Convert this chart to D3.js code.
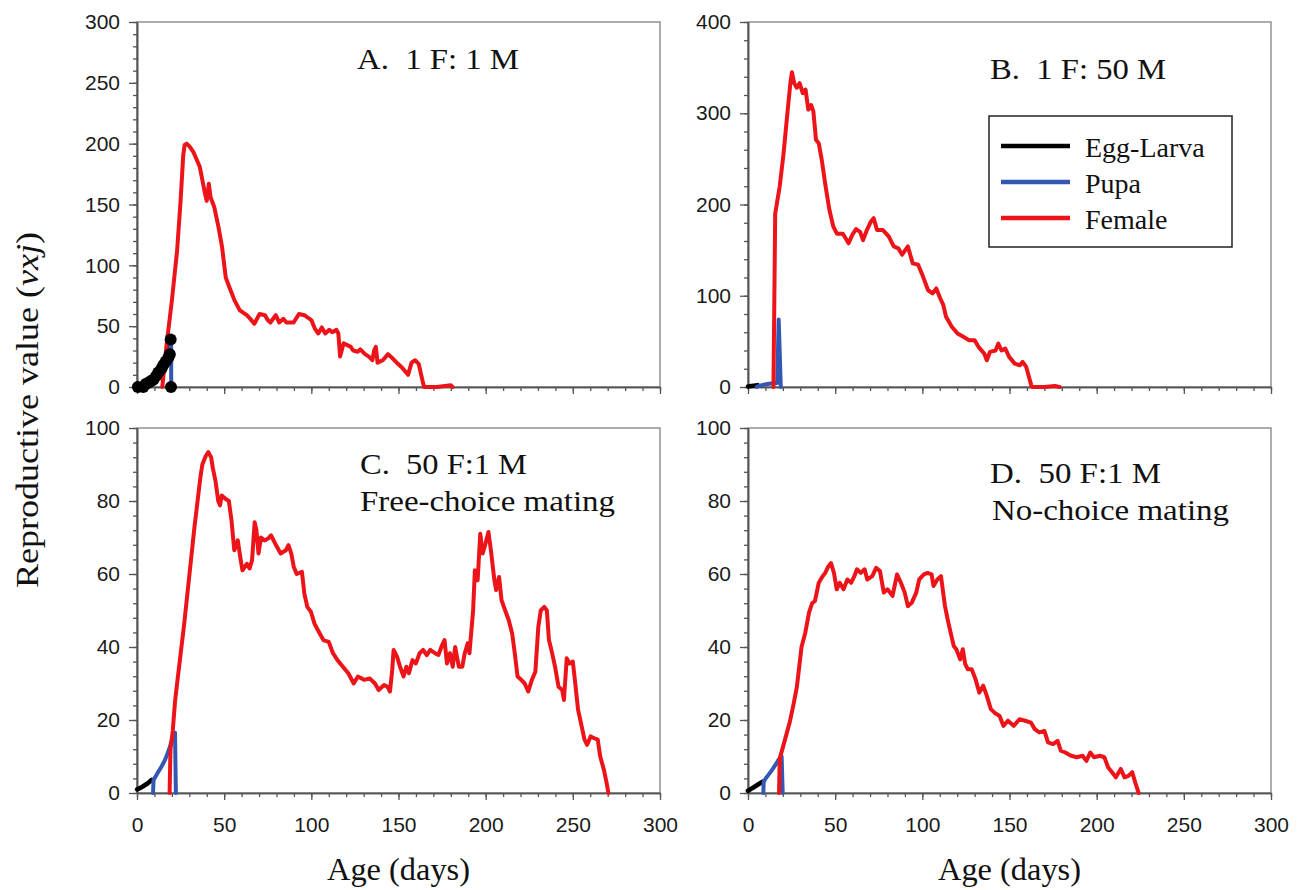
<!DOCTYPE html>
<html>
<head>
<meta charset="utf-8">
<script src="https://cdn.jsdelivr.net/npm/d3@7"></script>
<style>
  body { margin: 0; background: #fff; }
  svg { display: block; }
  .tick text { font-family: "Liberation Sans", Arial, sans-serif; font-size: 21px; fill: #1a1a1a; }
  .serif { font-family: "Liberation Serif", "Times New Roman", serif; fill: #111; white-space: pre; }
</style>
</head>
<body>
<svg id="chart" width="1299" height="890"></svg>
<script>
// ---- Axis ticks ----
const ageTicks = [0, 50, 100, 150, 200, 250, 300];
const valueTicksA = [0, 50, 100, 150, 200, 250, 300];
const valueTicksB = [0, 100, 200, 300, 400];
const valueTicksCD = [0, 20, 40, 60, 80, 100];

// ---- Panel labels ----
const panelTitles = {
  A: ["A.  1 F: 1 M"],
  B: ["B.  1 F: 50 M"],
  C: ["C.  50 F:1 M", "Free-choice mating"],
  D: ["D.  50 F:1 M", "No-choice mating"]
};
const legendLabels = ["Egg-Larva", "Pupa", "Female"];

// ---- A. 1 F : 1 M  (age in days, reproductive value) ----
const eggLarvaA = [[0,0],[2,1],[3.6,0],[5,2.5],[6.5,3.5],[8,5],[9.4,6],[11,9],[12.2,12],[14,15],[15.1,18],[16.5,21],[18,24],[18.8,27],[19.3,39]];
const eggLarvaMarkersA = [[0.5,0],[3.6,0],[5,2.5],[6.5,3.5],[8,5],[9.4,6],[11,9],[12.2,12],[14,15],[15.1,18],[16.5,21],[18,24],[18.8,27],[19.3,39],[19.5,0]];
const pupaA = [[18.8,27],[19.3,36],[19.6,36],[19.6,0]];
const femaleA = [[14.5,0],[17,35],[20,71],[23,112],[25,153],[26.5,190],[27.3,199],[28.5,200],[30,198],[32.4,193],[34.5,186],[36,181],[37.5,170],[39,159],[40,153],[41.2,167],[42.2,156],[44.3,148],[46.8,131],[48.8,115],[50.9,90],[53,82],[56,71],[59,63],[63,59],[65,56],[67.3,52],[70.3,60],[73.4,59],[75,55],[76.5,53],[79.6,59],[81.6,53],[84,56],[85.7,53],[89.8,53],[92.9,60],[96,59],[100,55],[102,48],[104,44],[106,49],[108,44],[110.3,47],[112,45],[114.4,47],[115.5,44],[116.5,25],[118.5,36],[122.6,33],[124,30],[126.7,29],[128,31],[130.8,27],[133,25],[135,22],[136,30],[137,33],[138,20],[141,22],[144,27],[147,23],[149,20],[152,16],[155.5,10],[157.5,20],[159.5,22],[161.6,19],[163.7,5.5],[164.7,0],[172,0],[180,1.4],[181,0]];

// ---- B. 1 F : 50 M ----
const eggLarvaB = [[0,0.5],[2,1],[4,1.5],[5.5,2]];
const pupaB = [[5,0],[6,1],[9,2.5],[12,3.5],[14.5,4],[16.8,4.5],[17.6,74],[18.8,0]];
const femaleB = [[14.6,0],[15.6,190],[18.2,220],[20.4,256],[22.6,300],[24.3,333],[25.2,345],[26.5,333],[28,328],[29.6,333],[31.4,322],[33,326],[34.6,304],[36.2,309],[37.5,302],[39,271],[40.6,267],[42.3,249],[44.5,220],[46.7,194],[48.9,176],[51,168],[54.4,168],[56,163],[57.7,157.5],[59.9,167],[62,173],[64.3,170],[66,161],[68.2,172],[70.4,181],[72.1,185],[74,172],[77.4,172],[80.7,165],[83.6,154],[86.2,152],[88.4,145],[91.7,154],[94.5,135.5],[97.6,134],[100.4,121],[103.3,106],[105.9,102.6],[108,108],[110.3,97],[112,90],[113.6,77],[116.9,66],[120.2,58.6],[123.5,55],[126.8,51.3],[130,51.3],[132.2,44],[135.5,36.6],[137,29.3],[138.8,38.5],[142,40],[143.6,47.6],[145.4,40],[147.6,42],[149.8,33],[153,25.6],[156,23.8],[157.5,27.5],[159.6,22],[162.5,1.8],[163,0],[170,0],[176,1],[178.7,0]];

// ---- C. 50 F : 1 M, free-choice mating ----
const eggLarvaC = [[0,1],[2,1.4],[4,2],[6,2.6],[7.5,3.2],[8.5,3.6]];
const pupaC = [[9.2,0],[9.5,3.6],[11,4.8],[12.2,5.8],[14,7.2],[16,9],[17.5,10.8],[18.9,12.7],[20,14.5],[21.2,16.4],[21.8,16.5],[22.3,0]];
const femaleC = [[18.7,0],[19.2,12],[20.5,17],[21.8,25],[23,30],[25,38],[27,46],[29,55],[31,64],[33,73],[35,81],[36.5,87],[37.5,90],[39.5,92.4],[40.9,93.4],[42.5,92],[43.5,89],[45,85.6],[46.6,80],[47.6,78.8],[48.6,81.5],[50.7,80.6],[52.7,80],[54.2,74.7],[55.8,66.5],[57.8,69.2],[59.5,63.8],[60.5,61],[63,62.8],[64.6,61.5],[66,63.8],[67.5,74.2],[68.5,72],[69.7,65.6],[71.1,70],[73.2,69.2],[75.2,69.7],[76.9,70.6],[79.3,68.3],[82.4,65.6],[85.4,66.5],[86.9,67.9],[88.5,65.6],[89.9,62],[91.6,60],[94.6,60.6],[96,54.6],[97.7,51],[99.8,49.6],[101.8,46.4],[103.8,44.6],[106.9,41.9],[110,41.4],[112.4,38.3],[115,36.4],[118.1,34.6],[121.2,32.8],[124.3,30],[126.7,31.9],[130.4,31],[133.5,31.4],[136.5,30],[138.6,28.2],[141.7,29.6],[143.7,29.1],[145.1,27.8],[146.4,33.7],[147.2,39.2],[149.2,37.3],[150.9,34.6],[152.9,31.9],[154.5,34.6],[156,32.8],[158,36.4],[160,35.5],[162.1,38.3],[164.1,39.2],[166.2,37.8],[168.2,39.2],[170.9,38.3],[172.9,37.8],[175,40.5],[176.4,41.9],[177.8,35.5],[179.5,38.3],[181.1,34.6],[182.5,40],[184.6,34.6],[186.6,34.6],[188,38.3],[189.7,41],[190.7,38.3],[192.8,50],[193.8,61],[195.4,58.3],[196.9,71],[198.3,65.6],[199.9,68.3],[201.6,71.5],[203,66.5],[205,58.3],[206,55.6],[207.7,59.2],[209.1,52.8],[211.2,50],[213.2,47.4],[215.2,43.7],[216.7,38.3],[218.3,31.9],[220.4,31],[222.4,30],[224.4,27.8],[226.5,31],[228.5,33.2],[230.2,45.5],[231.6,50],[233.6,51],[235.1,50],[236.3,41.9],[237.7,39.2],[239.8,34.6],[241.8,29.1],[243.9,28.2],[244.9,25.5],[246.5,36.9],[248,35.5],[250,36],[251.4,30],[253,22.8],[255.1,18.2],[256.7,14.6],[258.2,13.2],[260.2,15.5],[262.3,15],[264.3,14.6],[265.7,10],[267.8,6.4],[269.4,2.7],[270.4,0]];

// ---- D. 50 F : 1 M, no-choice mating ----
const eggLarvaD = [[0,0.6],[2,1.2],[4,1.8],[6,2.4],[8.4,3.1]];
const pupaD = [[8.8,0],[9,3],[10,3.9],[11.6,4.9],[13,5.8],[14.5,6.8],[16,7.9],[17.4,9],[19.3,10],[19.9,0]];
const femaleD = [[17.8,0],[18.2,9.5],[20,12.5],[22,16],[24,19.5],[26,24],[28,29],[29.5,35],[30.7,40],[32.9,44],[35,49.4],[36.8,52],[38.4,52.6],[40.6,57.6],[42.8,59.4],[44.3,60.3],[46,62],[47.6,63],[49.3,60.3],[50.9,55.8],[52.6,57.6],[54.8,55.8],[57,58.5],[59.2,57.6],[61,59.4],[62.5,61.3],[64.7,60.3],[66.9,61.3],[68.4,58.5],[71.3,59.4],[73.5,61.7],[75.7,60.8],[77.9,54.9],[80,55.8],[82.9,54],[85.5,59.9],[87.7,57.6],[89.9,54.9],[91.7,51.2],[93.9,52.1],[96.5,54.9],[98.2,58.5],[100.9,59.9],[103,60.3],[105.3,59.9],[106.4,56.7],[108.6,58.5],[110.7,59.4],[113,51.2],[114.5,47.6],[116.2,44],[118,40.3],[119.5,39.4],[121.7,36.6],[123.2,39.4],[124.6,35.3],[126.1,33.9],[128.3,33.9],[130.5,31.2],[132.7,27.5],[134.9,29.4],[137,26.6],[139.3,23],[141.4,22],[144.3,21.1],[146.5,18.4],[149.1,19.8],[152.4,18.4],[155.7,20.2],[159,19.8],[162.3,19.3],[164.5,17.5],[167.1,16.6],[170,17],[172.1,13.9],[175,13.4],[177.6,14.3],[179.4,11.6],[182,11.1],[185.3,10.2],[188.6,9.8],[191.9,10.2],[194.1,8.8],[196.3,11.1],[198.5,9.8],[201.8,10.2],[204.4,9.8],[206.6,7],[208.8,5.7],[211,4.3],[213.8,6.6],[216,4.3],[218.2,4.7],[220.4,5.7],[222.1,2.9],[224.1,0]];

// ---- Styling ----
const stageColors = { egg: "#000000", pupa: "#3457b4", female: "#ec1419" };
const axisColor = "#555";

const svg = d3.select("#chart");

const panels = [
  { key: "A", box: [137, 660, 22, 387], yMax: 300, yTicks: valueTicksA, yMinor: 10, showAge: false,
    egg: eggLarvaA, eggMarkers: eggLarvaMarkersA, pupa: pupaA, female: femaleA, titlePos: [[357, 69, 162]] },
  { key: "B", box: [748, 1271, 22, 387], yMax: 400, yTicks: valueTicksB, yMinor: 20, showAge: false,
    egg: eggLarvaB, pupa: pupaB, female: femaleB, titlePos: [[990, 79, 176]], legend: true },
  { key: "C", box: [137, 660, 428, 793], yMax: 100, yTicks: valueTicksCD, yMinor: 4, showAge: true,
    egg: eggLarvaC, pupa: pupaC, female: femaleC, titlePos: [[360, 474, 167], [360, 511, 255]] },
  { key: "D", box: [748, 1271, 428, 793], yMax: 100, yTicks: valueTicksCD, yMinor: 4, showAge: true,
    egg: eggLarvaD, pupa: pupaD, female: femaleD, titlePos: [[990, 483, 171], [992, 520, 237]] }
];

function styleAxis(g) {
  g.selectAll(".tick line").attr("stroke", axisColor).attr("stroke-width", 1.3);
  g.select(".domain").attr("stroke", axisColor).attr("stroke-width", 1.6);
}

panels.forEach(p => {
  const [left, right, top, bottom] = p.box;
  const x = d3.scaleLinear().domain([0, 300]).range([left, right]);
  const y = d3.scaleLinear().domain([0, p.yMax]).range([bottom, top]);
  const g = svg.append("g").attr("class", "panel-" + p.key);

  // plot frame
  g.append("rect")
    .attr("x", left).attr("y", top)
    .attr("width", right - left).attr("height", bottom - top)
    .attr("fill", "none").attr("stroke", "#8a8a8a").attr("stroke-width", 1.4);

  // age axis: minor then major ticks
  g.append("g").attr("transform", `translate(0,${bottom})`)
    .call(d3.axisBottom(x).tickValues(d3.range(0, 301, 10)).tickSize(4).tickSizeOuter(0).tickFormat(""))
    .call(styleAxis);
  g.append("g").attr("transform", `translate(0,${bottom})`)
    .call(d3.axisBottom(x).tickValues(ageTicks).tickSize(7).tickSizeOuter(0).tickPadding(17)
      .tickFormat(p.showAge ? d3.format("d") : ""))
    .call(styleAxis);

  // value axis: minor then major ticks
  g.append("g").attr("transform", `translate(${left},0)`)
    .call(d3.axisLeft(y).tickValues(d3.range(0, p.yMax + 0.001, p.yMinor)).tickSize(4).tickSizeOuter(0).tickFormat(""))
    .call(styleAxis);
  g.append("g").attr("transform", `translate(${left},0)`)
    .call(d3.axisLeft(y).tickValues(p.yTicks).tickSize(8).tickSizeOuter(0).tickPadding(9).tickFormat(d3.format("d")))
    .call(styleAxis);

  const line = d3.line().x(d => x(d[0])).y(d => y(d[1]));
  const series = [
    [p.egg, stageColors.egg, 4.6],
    [p.pupa, stageColors.pupa, 4],
    [p.female, stageColors.female, 4]
  ];
  series.forEach(([data, color, w]) => {
    g.append("path").datum(data)
      .attr("d", line)
      .attr("fill", "none")
      .attr("stroke", color)
      .attr("stroke-width", w)
      .attr("stroke-linejoin", "round")
      .attr("stroke-linecap", "round");
  });

  if (p.eggMarkers) {
    g.selectAll("circle.egg").data(p.eggMarkers).join("circle")
      .attr("class", "egg")
      .attr("cx", d => x(d[0])).attr("cy", d => y(d[1]))
      .attr("r", 6).attr("fill", stageColors.egg);
  }

  // panel title
  panelTitles[p.key].forEach((t, i) => {
    const [tx, ty, len] = p.titlePos[i];
    g.append("text").attr("class", "serif")
      .attr("x", tx).attr("y", ty)
      .attr("font-size", 30)
      .attr("textLength", len).attr("lengthAdjust", "spacingAndGlyphs")
      .text(t);
  });

  if (p.legend) {
    const lg = g.append("g");
    lg.append("rect").attr("x", 989).attr("y", 116).attr("width", 243).attr("height", 131)
      .attr("fill", "#fff").attr("stroke", "#222").attr("stroke-width", 1.5);
    const colors = [stageColors.egg, stageColors.pupa, stageColors.female];
    legendLabels.forEach((lab, i) => {
      const cy = 146 + i * 36;
      lg.append("line").attr("x1", 1001).attr("x2", 1070).attr("y1", cy).attr("y2", cy)
        .attr("stroke", colors[i]).attr("stroke-width", 4.5);
      lg.append("text").attr("class", "serif").attr("x", 1085).attr("y", cy + 10.5)
        .attr("font-size", 28).text(lab);
    });
  }

  if (p.showAge) {
    g.append("text").attr("class", "serif")
      .attr("x", (left + right) / 2).attr("y", 880)
      .attr("text-anchor", "middle").attr("font-size", 31)
      .attr("textLength", 143).attr("lengthAdjust", "spacingAndGlyphs")
      .text("Age (days)");
  }
});

// shared value-axis title
const yTitle = svg.append("text").attr("class", "serif")
  .attr("transform", "translate(38,410) rotate(-90)")
  .attr("text-anchor", "middle").attr("font-size", 31)
  .attr("textLength", 356).attr("lengthAdjust", "spacingAndGlyphs");
yTitle.append("tspan").text("Reproductive value (");
yTitle.append("tspan").attr("font-style", "italic").text("vxj");
yTitle.append("tspan").text(")");
</script>
</body>
</html>
